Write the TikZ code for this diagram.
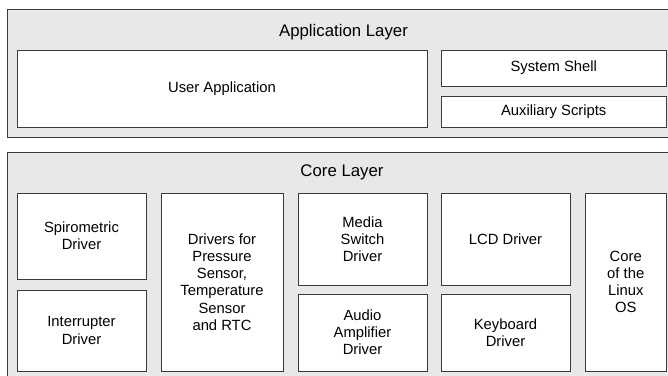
\documentclass[tikz,border=0pt]{standalone}
\usepackage{fontspec}
\setmainfont{Liberation Sans}
\definecolor{layerfill}{HTML}{E8E8E8}
\definecolor{edge}{HTML}{3A3A3A}
\tikzset{
  layerbox/.style={draw=edge, fill=layerfill, line width=1pt},
  blk/.style={draw=edge, fill=white, line width=1pt, inner sep=0pt, align=center,
    font=\fontsize{14.8}{17.2}\selectfont, text=black},
  ttl/.style={inner sep=0pt, font=\fontsize{16.8}{19}\selectfont, text=black}
}
\begin{document}
\begin{tikzpicture}[x=1pt,y=-1pt]
\useasboundingbox (0,0) rectangle (668,375);
\clip (0,0) rectangle (668,375);
% layers
\draw[layerbox] (7,9) rectangle (690,137);
\draw[layerbox] (7,152) rectangle (690,400);
\node[ttl] (apptitle) at (343.5,32) {Application Layer};
\node[ttl] (coretitle) at (342,172) {Core Layer};
% application layer
\node[blk, minimum width=410pt, minimum height=77pt] (user) at (222,88.5) {User Application};
\node[blk, minimum width=225.5pt, minimum height=36pt] (shell) at (553.75,68) {System Shell};
\node[blk, minimum width=225.5pt, minimum height=31pt] (aux) at (553.75,111.5) {Auxiliary Scripts};
% core layer
\node[blk, minimum width=129pt, minimum height=86pt] (spiro) at (81.5,236) {Spirometric\\Driver};
\node[blk, minimum width=129pt, minimum height=81pt] (intr) at (81.5,330.5) {Interrupter\\Driver};
\node[blk, minimum width=122pt, minimum height=178pt] (sensors) at (222,282) {Drivers for\\Pressure\\Sensor,\\Temperature\\Sensor\\and RTC};
\node[blk, minimum width=129pt, minimum height=92pt] (media) at (362.5,239) {Media\\Switch\\Driver};
\node[blk, minimum width=129pt, minimum height=77pt] (audio) at (362.5,332.5) {Audio\\Amplifier\\Driver};
\node[blk, minimum width=129pt, minimum height=92pt] (lcd) at (505.5,239) {LCD Driver};
\node[blk, minimum width=129pt, minimum height=77pt] (kbd) at (505.5,332.5) {Keyboard\\Driver};
\node[blk, minimum width=81.5pt, minimum height=178pt] (linux) at (625.75,282) {Core\\of the\\Linux\\OS};
\end{tikzpicture}
\end{document}
